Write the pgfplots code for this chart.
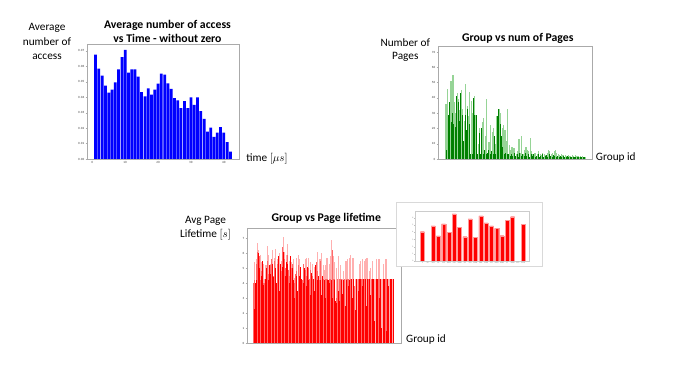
\documentclass[border=0pt]{standalone}
\usepackage{pgfplots}
\pgfplotsset{compat=1.18}
\usepackage{fontspec}
\setmainfont{Carlito}
\newfontfamily\tickfont{DejaVu Sans}
\usetikzlibrary{shadows}
\definecolor{lgreen}{RGB}{150,212,150}
\definecolor{dgreen}{RGB}{0,128,0}
\definecolor{lred}{RGB}{255,175,175}
\definecolor{mred}{RGB}{255,105,105}
\definecolor{axgray}{RGB}{170,170,170}
\pgfplotsset{
  base/.style={scale only axis, axis line style={axgray, line width=0.5bp},
    tick style={axgray, line width=0.3bp}, major tick length=1.5bp, tick align=outside,
    tick pos=left, /pgf/number format/assume math mode=true,
    tick label style={font=\tickfont\fontsize{2.8}{3}\selectfont, text=black!75, inner sep=1bp},
    clip=true}
}
\newcommand{\lab}[3]{\node[anchor=base, inner sep=0pt, font=\fontsize{11.3}{13}\selectfont] at (#1bp,#2bp) {#3};}
\newcommand{\tit}[3]{\node[anchor=base, inner sep=0pt, font=\fontsize{11.8}{13}\selectfont\bfseries] at (#1bp,#2bp) {#3};}
\begin{document}
\begin{tikzpicture}
\path[use as bounding box] (0,0) rectangle (693bp,370bp);
% ---------------- Plot 1 ----------------
\begin{axis}[base, at={(87bp,211bp)}, anchor=south west, width=152bp, height=115bp,
  xmin=-1.6, xmax=44.6, ymin=0, ymax=0.0745,
  xtick={0,10,20,30,40}, ytick={0,0.01,0.02,0.03,0.04,0.05,0.06,0.07},
  yticklabels={0.00,0.01,0.02,0.03,0.04,0.05,0.06,0.07}, scaled y ticks=false,
  ybar, bar width=2.75bp]
\addplot[fill=blue, draw=none] table {
x y
1 0.0676
2 0.0585
3 0.054
4 0.0475
5 0.043
6 0.045
7 0.0497
8 0.058
9 0.066
10 0.0707
11 0.056
12 0.058
13 0.058
14 0.0534
15 0.0434
16 0.0405
17 0.0457
18 0.0417
19 0.045
20 0.0488
21 0.0553
22 0.0547
23 0.049
24 0.0455
25 0.0395
26 0.038
27 0.033
28 0.0375
29 0.033
30 0.040
31 0.035
32 0.040
33 0.031
34 0.026
35 0.0177
36 0.0203
37 0.0143
38 0.0171
39 0.0207
40 0.0171
41 0.011
42 0.0048
};
\end{axis}
\lab{47}{339.2}{Average}
\lab{47}{324.8}{number of}
\lab{47}{310.5}{access}
\tit{167.5}{341.7}{Average number of access}
\tit{167.5}{327.3}{vs Time - without zero}
\lab{267}{208}{time $[\mu s]$}
% ---------------- Plot 2 ----------------
\begin{axis}[base, at={(438bp,211bp)}, anchor=south west, width=154bp, height=113bp,
  xmin=-4.7, xmax=105, ymin=0, ymax=74, xtick=\empty, ytick={0,10,...,70}]
\addplot[ycomb, no markers, draw=lgreen, line width=1.1bp] table {
x y
1 36
2 46
3 20
4 51
5 51
6 55
7 37
8 30
9 43
10 39
11 32
12 45
13 33
14 25
15 49
16 35
17 28
18 44
19 38
20 30
21 41
22 29
23 29
24 10
25 20
26 12
27 24
28 27
29 15
30 39
31 11
32 11
33 22
34 18
35 20
36 10
37 28
38 27
39 33
40 30
41 20
42 22
43 19
44 12
45 33
46 9
47 6
48 8
49 7
50 7
51 3
52 5
53 13
54 4
55 15
56 3
57 6
58 8
59 6
60 5
61 14
62 5
63 3
64 4
65 4
66 3
67 5
68 3
69 2.5
70 4
71 3
72 2.5
73 4
74 6
75 5
76 3
77 4
78 5
79 6
80 4
81 3
82 2.5
83 3
84 2.5
85 2.5
86 2.5
87 2
88 2.5
89 2
90 2
91 2.5
92 2
93 2.5
94 2
95 2
96 1.5
97 2
98 2
99 1.5
100 1.5
};
\addplot[ycomb, no markers, draw=dgreen, line width=0.75bp] table {
x y
1 6
2.5 29
3.5 37
4.5 24
5.5 30
6.5 23
7.5 21
8.5 41
9.5 37
10.5 25
11.5 43
12.5 29
13.5 12
14.5 29
15.5 19
16.5 33
17.5 23
18.5 3
19.5 3
20.5 40
21.5 29
22.5 29
23.5 3
24.5 17
25.5 3
26.5 20
27.5 3
28.5 6
29.5 3
30.5 4
31.5 6
32.5 3
33.5 5
34.5 3
35.5 15
36.5 3
37.5 28
38.5 33
39.5 23
40.5 15
41.5 8
42.5 3
43.5 4
44.5 3
45.5 3
46.5 2
47.5 3
48.5 2
49.5 4
50.5 2
51.5 3
52.5 1.5
53.5 4
54.5 2
55.5 3
56.5 2
57.5 4
58.5 2
59.5 3
60.5 1.5
61.5 3
62.5 2
63.5 3
64.5 1.5
65.5 2
66.5 3
67.5 1.5
68.5 2
69.5 3
70.5 1.5
71.5 2
72.5 2.5
73.5 1.5
74.5 3
75.5 2
76.5 1.5
77.5 2.5
78.5 2
79.5 1.5
80.5 2
81.5 1.5
82.5 2
83.5 1.5
84.5 2
85.5 1.5
86.5 1.5
87.5 2
88.5 1.5
89.5 1.5
90.5 1.5
91.5 1
92.5 1.5
93.5 1.5
94.5 1
95.5 1.5
96.5 1
97.5 1
98.5 1
99.5 1
};
\end{axis}
\tit{517.8}{328.7}{Group vs num of Pages}
\lab{405.3}{323.2}{Number of}
\lab{405.3}{310.5}{Pages}
\lab{615.8}{209.8}{Group id}
% ---------------- Plot 3 ----------------
\begin{axis}[base, at={(247bp,27bp)}, anchor=south west, width=154bp, height=115bp,
  xmin=-4, xmax=105.7, ymin=0, ymax=7.67, xtick=\empty, ytick={0,1,...,7}]
\addplot[ycomb, no markers, draw=lred, line width=1.1bp] table {
x y
1.5 5.4
2.5 5.6
3.5 6.7
4.5 6.2
5.5 5.9
6.5 5.4
7.5 5.3
8.5 4.3
9.5 5.2
10.5 6.5
11.5 5.9
12.5 5.3
14 6.2
15.5 5.7
16.5 6.3
17.5 5.6
19 6.0
20.5 5.5
22 7.05
23 6.1
24 5.9
25 6.6
26.5 5.5
27.5 5.4
29 5.6
30 4.35
31 5.7
32.5 5.85
33.5 5.6
34.5 4.3
36 4.3
37.5 5.6
38.5 5.7
39.5 5.7
41 5.4
42.5 5.3
44 5.1
45 4.85
46.5 6.1
48 5.6
49 6.0
50.5 5.2
51 4.9
52 5.2
53 5.7
54.5 5.3
55.5 5.8
56.5 6.9
57.5 5.8
58.5 5.4
60 5.0
61 5.8
62.5 5.2
64 4.3
65 4.8
66.5 5.5
67.5 5.6
69 5.7
70 5.9
71.5 5.7
72 4.0
73.5 4.25
74.5 4.25
76 5.3
77 5.5
78.5 5.6
79.5 5.5
80.5 5.6
81.5 5.7
83 4.8
84 5.0
85.5 5.5
86.5 4.25
87.5 4.25
88.5 5.6
90 5.6
91.5 4.25
92.5 4.25
93.5 5.3
95 5.6
96.5 4.25
97.5 4.25
98.5 4.25
99.5 4.25
100.5 4.25
};
\addplot[ycomb, no markers, draw=mred, line width=0.8bp] table {
x y
0.5 4.0
1.5 4.2
2.5 5.3
3.5 6.1
4.5 5.8
5.5 4.2
6.5 4.8
7.5 4.0
8.5 4.0
9.5 4.8
10.5 5.5
11.5 4.6
12.5 5.2
13.5 5.6
14.5 4.5
15.5 5.5
16.5 4.8
17.5 5.3
18.5 4.9
19.5 5.0
20.5 4.8
21.5 6.4
22.5 5.6
23.5 5.0
24.5 5.9
25.5 4.9
26.5 4.5
27.5 5.0
28.5 5.3
29.5 4.0
30.5 4.6
31.5 4.8
32.5 5.2
33.5 4.4
34.5 4.0
35.5 4.2
36.5 5.3
37.5 4.9
38.5 4.5
39.5 5.0
40.5 4.3
41.5 4.9
42.5 4.5
43.5 4.2
44.5 4.6
45.5 5.4
46.5 4.8
47.5 4.2
48.5 5.5
49.5 4.25
50.5 4.25
51.5 4.25
52.5 4.25
53.5 4.25
54.5 4.25
55.5 4.25
56.5 6.2
57.5 4.25
58.5 4.25
59.5 3.0
60.5 4.25
61.5 4.25
62.5 4.25
63.5 4.25
64.5 3.5
65.5 4.25
66.5 4.25
67.5 4.25
68.5 4.25
69.5 4.25
70.5 4.25
71.5 4.25
72.5 3.8
75.5 4.25
76.5 4.25
77.5 4.25
78.5 4.25
79.5 4.25
80.5 4.25
81.5 4.25
82.5 4.25
84.5 4.25
85.5 4.25
88.5 4.25
89.5 4.25
90.5 4.25
93.5 4.25
94.5 4.25
95.5 4.25
};
\addplot[ycomb, no markers, draw=red, line width=0.75bp] table {
x y
1 2.3
2 4.0
3 4.2
4 6.0
5 5.0
6 4.5
7 5.5
8 3.9
9 4.3
10 5.0
11 4.2
12 5.2
13 4.6
14 5.3
15 4.4
16 5.0
17 4.0
18 5.8
19 3.5
20 5.3
21 5.1
22 6.1
23 4.5
24 5.4
25 5.3
26 4.0
27 5.8
28 5.0
29 4.2
30 3.0
31 4.5
32 3.5
33 4.5
34 5.1
35 4.3
36 4.0
37 5.0
38 3.8
39 5.1
40 4.2
41 3.2
42 4.7
43 4.3
44 3.5
45 5.2
46 4.2
47 4.5
48 4.2
49 3.2
50 4.5
51 4.2
52 3.0
53 4.2
54 4.2
55 4.0
56 4.2
57 3.0
58 4.2
59 2.8
60 2.7
61 3.5
62 2.8
63 4.2
64 3.3
65 4.2
66 2.5
67 4.2
68 3.8
69 4.2
70 4.25
71 3.0
72 4.25
73 2.2
74 4.25
75 3.5
76 4.25
77 4.25
78 3.8
79 4.25
80 4.25
81 2.5
82 4.25
83 4.25
84 3.2
85 4.25
86 4.25
87 1.5
88 4.25
89 4.25
90 3.0
91 4.25
92 1.0
93 4.25
94 4.25
95 0.8
96 4.25
97 3.8
98 4.25
99 4.25
100 4.25
};
\end{axis}
\tit{326.3}{148.3}{Group vs Page lifetime}
\lab{205.5}{146.5}{Avg Page}
\lab{205.5}{132}{Lifetime $[s]$}
\lab{426}{27.5}{Group id}
% ---------------- Inset ----------------
\fill[white, draw=black!15, line width=0.6bp, drop shadow={shadow xshift=1.2bp, shadow yshift=-1.5bp, opacity=0.25}] (396bp,104bp) rectangle (542bp,167.5bp);
\begin{axis}[base, at={(415bp,109bp)}, anchor=south west, width=114bp, height=49.3bp,
  axis line style={black!20, line width=0.4bp}, tick style={black!25, line width=0.2bp}, major tick length=0.8bp,
  tick label style={font=\tickfont\fontsize{1.6}{2}\selectfont, text=black!60, inner sep=0.6bp},
  xmin=-1.4, xmax=20.1, ymin=0, ymax=6.9, ytick={0,1,...,6},
  xtick={0,...,19}, xticklabels={1,15,103,16,112,1001,110,1080,91,121,1004,104,1100,117,1002,1040,97,1090,113,1110},
  ybar, bar width=4bp]
\addplot[fill=red, draw=red!40, line width=0.2bp] table {
x y
0 4.1
2 4.9
3 3.5
4 5.2
5 4.0
6 6.6
7 4.7
8 3.4
9 5.9
10 3.3
11 6.3
12 5.35
13 4.9
14 4.55
15 3.55
16 5.7
17 6.2
19 5.15
};
\end{axis}
\end{tikzpicture}
\end{document}
